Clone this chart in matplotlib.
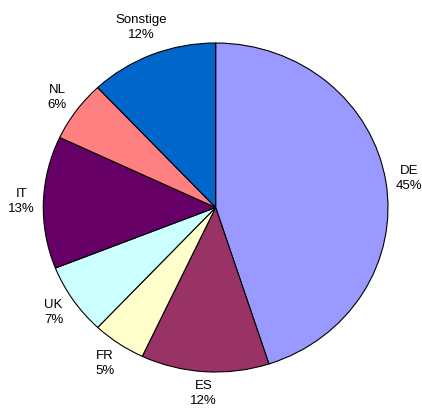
import numpy as np
import matplotlib
matplotlib.use("Agg")
import matplotlib.pyplot as plt

categories = ["DE", "ES", "FR", "UK", "IT", "NL", "Sonstige"]
values = [45, 12, 5, 7, 13, 6, 12]
colors = ["#9999FF", "#993366", "#FFFFCC", "#CCFFFF", "#660066", "#FF8080", "#0066CC"]

plt.rcParams['font.family'] = ['Liberation Sans', 'DejaVu Sans']

W, H = 422, 412
fig = plt.figure(figsize=(W / 100, H / 100), dpi=100)
# axes spanning the (slightly elliptical) pie
left, right, top, bottom = 43.3, 388.0, 43.0, 372.0
ax = fig.add_axes([left / W, (H - bottom) / H, (right - left) / W, (bottom - top) / H])

labels = [f"{c}\n{v}%" for c, v in zip(categories, values)]
wedges, texts = ax.pie(values, colors=colors, startangle=90, counterclock=False,
                       labels=labels, labeldistance=1.14,
                       wedgeprops=dict(edgecolor="black", linewidth=0.8),
                       textprops=dict(fontsize=9.5, ha="center", va="center",
                                      linespacing=1.35, color="black"))
ax.set_aspect("auto")
ax.set_xlim(-1, 1)
ax.set_ylim(-1, 1)
ax.axis("off")

# place labels just outside the edge, offset by their own box size
fig.canvas.draw()
renderer = fig.canvas.get_renderer()
inv = ax.transData.inverted()
gap = 0.045
for w, t in zip(wedges, texts):
    ang = np.deg2rad((w.theta1 + w.theta2) / 2)
    c, s = np.cos(ang), np.sin(ang)
    bb = t.get_window_extent(renderer)
    (x0, y0), (x1, y1) = inv.transform([[bb.x0, bb.y0], [bb.x1, bb.y1]])
    hw, hh = (x1 - x0) / 2, (y1 - y0) / 2
    d = 1 + gap + abs(c) * hw + abs(s) * hh
    t.set_position((d * c, d * s))
    t.set_ha("center")
    t.set_va("center")
    t.set_clip_on(False)

fig.savefig("out.png", dpi=100, facecolor="white")
